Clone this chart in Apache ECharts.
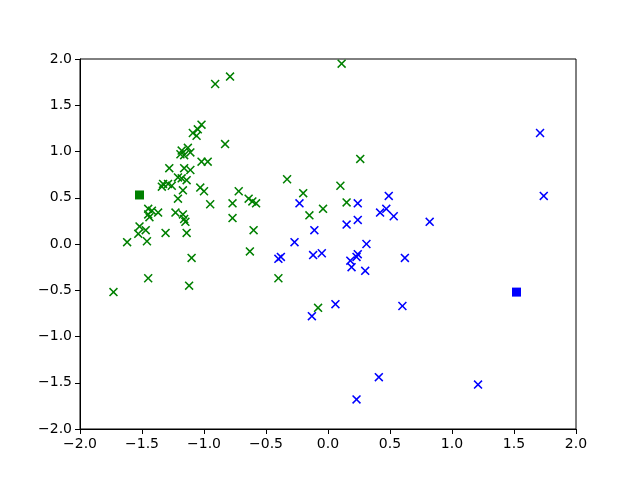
<!DOCTYPE html>
<html>
<head>
<meta charset="utf-8">
<script src="https://cdn.jsdelivr.net/npm/echarts@6/dist/echarts.min.js"></script>
<style>
  html, body { margin: 0; padding: 0; background: #fff; }
  #chart { width: 640px; height: 480px; }
</style>
</head>
<body>
<div id="chart"></div>
<script>
// cluster 1 (green)
const greenPoints = [
  [0.11, 1.95], [-0.91, 1.73], [-0.79, 1.81], [-1.02, 1.29], [-1.05, 1.24],
  [-1.09, 1.20], [-1.06, 1.17], [-0.83, 1.08], [-1.13, 1.04], [-1.18, 1.01],
  [-1.11, 0.99], [-1.19, 0.97], [-1.16, 0.96], [-1.02, 0.89], [-0.97, 0.89],
  [-1.28, 0.82], [-1.16, 0.82], [-1.11, 0.80], [0.26, 0.92], [-1.21, 0.72],
  [-1.18, 0.71], [-1.14, 0.69], [-1.33, 0.65], [-1.29, 0.65], [-1.34, 0.62],
  [-1.26, 0.63], [-1.17, 0.58], [-1.21, 0.49], [-1.03, 0.61], [-1.00, 0.57],
  [-0.95, 0.43], [-0.72, 0.57], [-0.77, 0.44], [-0.64, 0.49], [-0.61, 0.46],
  [-0.58, 0.44], [-0.77, 0.28], [-0.60, 0.15], [-0.33, 0.70], [-0.20, 0.55],
  [0.10, 0.63], [0.15, 0.45], [-0.04, 0.38], [-0.15, 0.31], [-0.63, -0.08],
  [-0.40, -0.37], [-0.08, -0.69], [-1.45, 0.38], [-1.42, 0.36], [-1.37, 0.34],
  [-1.45, 0.32], [-1.44, 0.29], [-1.52, 0.19], [-1.47, 0.15], [-1.53, 0.11],
  [-1.46, 0.03], [-1.62, 0.02], [-1.31, 0.12], [-1.23, 0.34], [-1.17, 0.32],
  [-1.16, 0.27], [-1.15, 0.24], [-1.14, 0.12], [-1.10, -0.15], [-1.73, -0.52],
  [-1.45, -0.37], [-1.12, -0.45]
]
// cluster 2 (blue)
const bluePoints = [
  [1.71, 1.20], [1.74, 0.52], [0.82, 0.24], [-0.23, 0.44], [0.24, 0.44],
  [0.49, 0.52], [0.42, 0.34], [0.47, 0.38], [0.53, 0.30], [0.15, 0.21],
  [0.24, 0.26], [-0.11, 0.15], [-0.27, 0.02], [0.31, 0.00], [-0.38, -0.14],
  [-0.40, -0.16], [-0.12, -0.12], [-0.05, -0.10], [0.24, -0.11], [0.23, -0.14],
  [0.18, -0.18], [0.19, -0.25], [0.30, -0.29], [0.62, -0.15], [0.06, -0.65],
  [0.60, -0.67], [-0.13, -0.78], [0.41, -1.44], [0.23, -1.68], [1.21, -1.52]
]
const greenCenter = [[-1.52, 0.53]]
const blueCenter = [[1.52, -0.52]]
const xTicks = [-2.0, -1.5, -1.0, -0.5, 0.0, 0.5, 1.0, 1.5, 2.0]
const yTicks = [-2.0, -1.5, -1.0, -0.5, 0.0, 0.5, 1.0, 1.5, 2.0]

const xMark = 'path://M0,1.2L1.2,0L5,3.8L8.8,0L10,1.2L6.2,5L10,8.8L8.8,10L5,6.2L1.2,10L0,8.8L3.8,5Z'
const fmt = (v) => v.toFixed(1).replace('-', '\u2212')

const chart = echarts.init(document.getElementById('chart'))

function axis (ticks) {
  return {
    type: 'value',
    min: ticks[0],
    max: ticks[ticks.length - 1],
    interval: ticks[1] - ticks[0],
    axisLine: { show: true, onZero: false, lineStyle: { color: '#000', width: 1 } },
    axisTick: { show: true, inside: false, length: 5, lineStyle: { color: '#000' } },
    axisLabel: {
      color: '#000', fontSize: 14, fontFamily: 'DejaVu Sans', margin: 8,
      formatter: fmt
    },
    splitLine: { show: false }
  }
}

const option = {
  animation: false,
  backgroundColor: '#fff',
  grid: {
    left: 80, right: 64, top: 59, bottom: 51,
    show: true, borderColor: '#000', borderWidth: 1
  },
  xAxis: axis(xTicks),
  yAxis: axis(yTicks),
  series: [
    {
      type: 'scatter', data: greenPoints, symbol: xMark, symbolSize: 9,
      itemStyle: { color: '#008000', opacity: 1 }
    },
    {
      type: 'scatter', data: bluePoints, symbol: xMark, symbolSize: 9,
      itemStyle: { color: '#0000ff', opacity: 1 }
    },
    {
      type: 'scatter', data: greenCenter, symbol: 'rect', symbolSize: 9,
      itemStyle: { color: '#008000', opacity: 1 }
    },
    {
      type: 'scatter', data: blueCenter, symbol: 'rect', symbolSize: 9,
      itemStyle: { color: '#0000ff', opacity: 1 }
    }
  ]
}
chart.setOption(option)
</script>
</body>
</html>
